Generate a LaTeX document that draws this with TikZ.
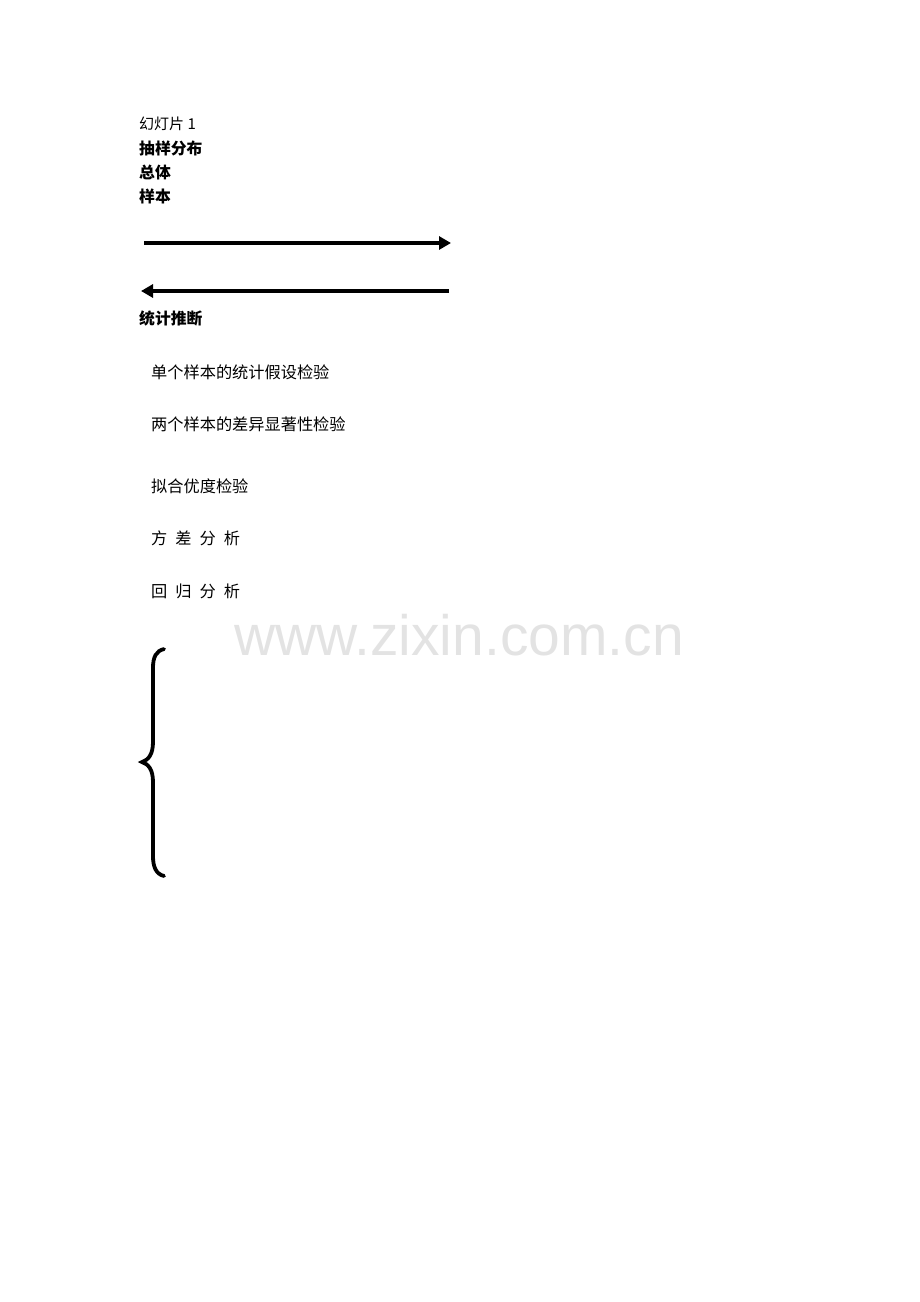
\documentclass[tikz,border=0pt]{standalone}
\usepackage{fontspec}
\setmainfont{Liberation Serif}
\newfontfamily\cjk{Noto Sans CJK SC}
\newfontfamily\wmfont{Liberation Sans}
\usetikzlibrary{arrows.meta}
\begin{document}
\begin{tikzpicture}[x=1pt,y=-1pt,
  lbl/.style={anchor=west,inner sep=0pt,font=\cjk\fontsize{15}{15}\selectfont},
  blbl/.style={anchor=west,inner sep=0pt,font=\cjk\bfseries\fontsize{15.8}{16}\selectfont},
  item/.style={anchor=west,inner sep=0pt,font=\cjk\fontsize{16.2}{17}\selectfont},
  bigarrow/.style={line width=4pt,-{Triangle[length=12pt,width=13pt]}}]
\useasboundingbox (0,0) rectangle (920,1302);
\node[anchor=center,inner sep=0pt,text=black!11,font=\wmfont\fontsize{57}{57}\selectfont] (wm) at (459,635) {www.zixin.com.cn};
\node[lbl] (t0) at (139,124) {幻灯片 1};
\node[blbl] (t1) at (139,148) {抽样分布};
\node[blbl] (t2) at (139,172) {总体};
\node[blbl] (t3) at (139,196) {样本};
\coordinate (ra) at (144,243);
\coordinate (rb) at (451,243);
\coordinate (la) at (449,291);
\coordinate (lb) at (141,291);
\draw[bigarrow] (ra) -- (rb);
\draw[bigarrow] (la) -- (lb);
\node[blbl] (t4) at (139,318) {统计推断};
\node[item] (i1) at (151,372) {单个样本的统计假设检验};
\node[item] (i2) at (151,424) {两个样本的差异显著性检验};
\node[item] (i3) at (151,486) {拟合优度检验};
\node[item] (i4) at (151,538) {方\hspace{8pt}差\hspace{8pt}分\hspace{8pt}析};
\node[item] (i5) at (151,591) {回\hspace{8pt}归\hspace{8pt}分\hspace{8pt}析};
\draw[line width=3.8pt,line cap=round]
  (164,649) .. controls (156,651) and (153,657) .. (153,668)
  -- (153,742) .. controls (153,755) and (148,760) .. (142,762)
  .. controls (148,764) and (153,769) .. (153,782)
  -- (153,856) .. controls (153,867) and (156,874) .. (164,876);
\end{tikzpicture}
\end{document}
